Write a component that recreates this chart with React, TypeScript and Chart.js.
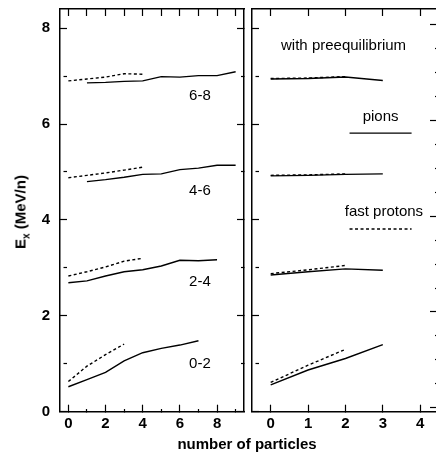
import React, { useEffect, useRef } from "react";
import { Chart, registerables } from "chart.js";

Chart.register(...registerables);

const FONT = "'Liberation Sans', Arial, Helvetica, sans-serif";

// ---------- data: left panel (bins of excitation energy) ----------
const leftParticles = [0, 1, 2, 3, 4, 5, 6, 7, 8, 9];
const bin68Solid = [null, 6.86, 6.87, 6.89, 6.9, 6.99, 6.98, 7.01, 7.01, 7.09];
const bin68Dashed = [6.9, 6.94, 6.98, 7.05, 7.04, null, null, null, null, null];
const bin46Solid = [null, 4.8, 4.84, 4.89, 4.95, 4.96, 5.05, 5.08, 5.14, 5.14];
const bin46Dashed = [4.88, 4.93, 4.98, 5.04, 5.1, null, null, null, null, null];
const bin24Solid = [2.69, 2.73, 2.83, 2.92, 2.96, 3.04, 3.16, 3.15, 3.17, null];
const bin24Dashed = [2.83, 2.92, 3.02, 3.14, 3.2, null, null, null, null, null];
const bin02Solid = [0.52, 0.67, 0.82, 1.06, 1.23, 1.32, 1.39, 1.48, null, null];
const bin02Dashed = [0.63, 0.95, 1.19, 1.41, null, null, null, null, null, null];

// ---------- data: right panel (with preequilibrium) ----------
const rightParticles = [0, 1, 2, 3];
const pre68Pions = [6.94, 6.95, 6.98, 6.91];
const pre68Protons = [6.95, 6.96, 6.99, null];
const pre46Pions = [4.92, 4.93, 4.95, 4.96];
const pre46Protons = [4.93, 4.94, 4.96, null];
const pre24Pions = [2.85, 2.92, 2.98, 2.95];
const pre24Protons = [2.88, 2.96, 3.05, null];
const pre02Pions = [0.56, 0.87, 1.11, 1.4];
const pre02Protons = [0.61, 0.97, 1.3, null];

// legend sample lines (right panel)
const legendSampleX = [2.11, 3.77];
const legendPionsY = [5.81, 5.81];
const legendProtonsY = [3.81, 3.81];

// ---------- tick labels ----------
const yTickLabels = [0, 2, 4, 6, 8];
const leftXTickLabels = [0, 2, 4, 6, 8];
const rightXTickLabels = [0, 1, 2, 3, 4];

// ---------- text notes (data coordinates) ----------
const leftNotes = [
  { text: "6-8", x: 7.08, y: 6.58 },
  { text: "4-6", x: 7.08, y: 4.6 },
  { text: "2-4", x: 7.08, y: 2.7 },
  { text: "0-2", x: 7.08, y: 0.99 },
];
const rightNotes = [
  { text: "with preequilibrium", x: 1.95, y: 7.64 },
  { text: "pions", x: 2.94, y: 6.16 },
  { text: "fast protons", x: 3.03, y: 4.16 },
];

const toPoints = (xs: number[], ys: (number | null)[]) =>
  xs.map((x, i) => ({ x, y: ys[i] })).filter((p) => p.y !== null) as { x: number; y: number }[];

const solid = (data: any) => ({
  data,
  borderColor: "#000",
  borderWidth: 1.4,
  pointRadius: 0,
  tension: 0,
  fill: false,
});
const dashed = (data: any) => ({
  ...solid(data),
  borderDash: [3, 2.5],
});

const isMult = (v: number, m: number) => Math.abs(v / m - Math.round(v / m)) < 1e-6;

const notesPlugin = {
  id: "notes",
  afterDatasetsDraw(chart: any, _args: any, opts: any) {
    const { ctx } = chart;
    const xs = chart.scales.x;
    const ys = chart.scales.y;
    ctx.save();
    ctx.font = `15px ${FONT}`;
    ctx.fillStyle = "#000";
    ctx.textAlign = "center";
    ctx.textBaseline = "middle";
    for (const n of opts.items || []) {
      ctx.fillText(n.text, xs.getPixelForValue(n.x), ys.getPixelForValue(n.y));
    }
    ctx.restore();
  },
};

const border = { display: true, color: "#000", width: 1.5 };

function tickGrid(majorLen: number, minorDash: ((v: number) => boolean) | null, minorVisible = 3.5) {
  return {
    drawOnChartArea: false,
    drawTicks: true,
    tickLength: -majorLen,
    tickColor: "#000",
    tickWidth: 1.2,
    tickBorderDash: (c: any) =>
      minorDash && c.tick && minorDash(c.tick.value) ? [minorVisible, 60] : [],
  };
}

const labelFont = { family: FONT, size: 15, weight: "bold" as const };

function hiddenTicks(step: number) {
  return { display: false, stepSize: step, includeBounds: false, autoSkip: false };
}

// fixed-size axis boxes, no automatic label padding
const fixH = (h: number) => (s: any) => {
  s.height = h;
  s.paddingLeft = 0; s.paddingRight = 0; s.paddingTop = 0; s.paddingBottom = 0;
};
const fixW = (w: number) => (s: any) => {
  s.width = w;
  s.paddingLeft = 0; s.paddingRight = 0; s.paddingTop = 0; s.paddingBottom = 0;
};

function leftConfig(): any {
  return {
    type: "line",
    data: {
      datasets: [
        solid(toPoints(leftParticles, bin68Solid)),
        dashed(toPoints(leftParticles, bin68Dashed)),
        solid(toPoints(leftParticles, bin46Solid)),
        dashed(toPoints(leftParticles, bin46Dashed)),
        solid(toPoints(leftParticles, bin24Solid)),
        dashed(toPoints(leftParticles, bin24Dashed)),
        solid(toPoints(leftParticles, bin02Solid)),
        dashed(toPoints(leftParticles, bin02Dashed)),
      ],
    },
    options: {
      responsive: false,
      maintainAspectRatio: false,
      animation: false,
      devicePixelRatio: 1,
      layout: { autoPadding: false, padding: { top: 9, left: 0, right: 4, bottom: 0 } },
      plugins: { legend: { display: false }, tooltip: { enabled: false }, notes: { items: leftNotes } },
      scales: {
        x: {
          type: "linear",
          position: "bottom",
          min: -0.45,
          max: 9.45,
          afterFit: fixH(42.3),
          border,
          grid: tickGrid(7, (v) => !isMult(v, 2)),
          ticks: {
            stepSize: 1, includeBounds: false, autoSkip: false, maxRotation: 0,
            color: "#000", font: labelFont, padding: 10,
            callback: (v: number) => (leftXTickLabels.includes(v) ? String(v) : ""),
          },
        },
        xTop: {
          type: "linear", position: "top", min: -0.45, max: 9.45,
          afterFit: fixH(0),
          border, grid: tickGrid(7, null), ticks: hiddenTicks(1),
        },
        y: {
          type: "linear", position: "left", min: 0, max: 8.4,
          afterFit: fixW(60),
          border,
          grid: tickGrid(7, (v) => !isMult(v, 2)),
          ticks: {
            stepSize: 1, includeBounds: false, autoSkip: false,
            color: "#000", font: labelFont, padding: 17,
            callback: (v: number) => (yTickLabels.includes(v) ? String(v) : ""),
          },
        },
        yRight: {
          type: "linear", position: "right", min: 0, max: 8.4,
          afterFit: fixW(0),
          border, grid: tickGrid(7, (v) => !isMult(v, 2)), ticks: hiddenTicks(1),
        },
      },
    },
    plugins: [notesPlugin],
  };
}

function rightConfig(): any {
  return {
    type: "line",
    data: {
      datasets: [
        solid(toPoints(rightParticles, pre68Pions)),
        dashed(toPoints(rightParticles, pre68Protons)),
        solid(toPoints(rightParticles, pre46Pions)),
        dashed(toPoints(rightParticles, pre46Protons)),
        solid(toPoints(rightParticles, pre24Pions)),
        dashed(toPoints(rightParticles, pre24Protons)),
        solid(toPoints(rightParticles, pre02Pions)),
        dashed(toPoints(rightParticles, pre02Protons)),
        solid(toPoints(legendSampleX, legendPionsY)),
        dashed(toPoints(legendSampleX, legendProtonsY)),
      ],
    },
    options: {
      responsive: false,
      maintainAspectRatio: false,
      animation: false,
      devicePixelRatio: 1,
      layout: { autoPadding: false, padding: { top: 9, left: 0, right: 3, bottom: 0 } },
      plugins: { legend: { display: false }, tooltip: { enabled: false }, notes: { items: rightNotes } },
      scales: {
        x: {
          type: "linear", position: "bottom", min: -0.5, max: 4.45,
          afterFit: fixH(42.3),
          border,
          grid: tickGrid(7, null),
          ticks: {
            stepSize: 1, includeBounds: false, autoSkip: false, maxRotation: 0,
            color: "#000", font: labelFont, padding: 10,
            callback: (v: number) => (rightXTickLabels.includes(v) ? String(v) : ""),
          },
        },
        xTop: {
          type: "linear", position: "top", min: -0.5, max: 4.45,
          afterFit: fixH(0),
          border, grid: tickGrid(7, null), ticks: hiddenTicks(1),
        },
        y: {
          type: "linear", position: "left", min: 0, max: 8.4,
          afterFit: fixW(4),
          border, grid: tickGrid(7, (v) => !isMult(v, 2)), ticks: hiddenTicks(1),
        },
        yRight: {
          type: "linear", position: "right", min: -0.08, max: 8.32,
          afterFit: fixW(0),
          border, grid: tickGrid(7, (v) => !isMult(v, 2), 2.5), ticks: hiddenTicks(0.5),
        },
      },
    },
    plugins: [notesPlugin],
  };
}

export default function App() {
  const leftRef = useRef<HTMLCanvasElement>(null);
  const rightRef = useRef<HTMLCanvasElement>(null);

  useEffect(() => {
    document.body.style.margin = "0";
    const c1 = new Chart(leftRef.current as HTMLCanvasElement, leftConfig());
    const c2 = new Chart(rightRef.current as HTMLCanvasElement, rightConfig());
    return () => {
      c1.destroy();
      c2.destroy();
    };
  }, []);

  return (
    <div
      style={{
        position: "relative",
        width: 436,
        height: 454,
        overflow: "hidden",
        background: "#fff",
        fontFamily: FONT,
        color: "#000",
      }}
    >
      <canvas ref={leftRef} width={248} height={454} style={{ position: "absolute", left: 0, top: 0 }} />
      <canvas ref={rightRef} width={192} height={454} style={{ position: "absolute", left: 248, top: 0 }} />
      <div
        style={{
          position: "absolute",
          left: 247,
          top: 443,
          transform: "translate(-50%, -50%)",
          fontWeight: "bold",
          fontSize: 15,
          lineHeight: 1,
          whiteSpace: "nowrap",
        }}
      >
        number of particles
      </div>
      <div
        style={{
          position: "absolute",
          left: 22,
          top: 212,
          transform: "translate(-50%, -50%) rotate(-90deg)",
          fontWeight: "bold",
          fontSize: 15,
          lineHeight: 1,
          whiteSpace: "nowrap",
        }}
      >
        E<sub style={{ fontSize: 10, lineHeight: 1 }}>x</sub> (MeV/n)
      </div>
    </div>
  );
}
